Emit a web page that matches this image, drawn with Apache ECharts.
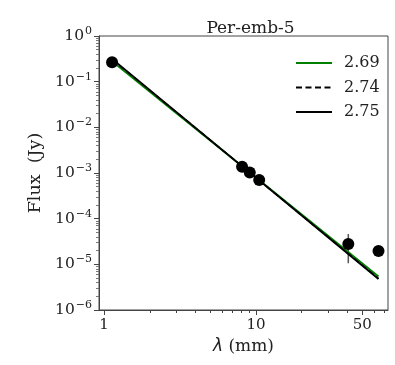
<!DOCTYPE html>
<html><head><meta charset="utf-8">
<script src="https://cdn.jsdelivr.net/npm/echarts@6/dist/echarts.min.js"></script>
<style>html,body{margin:0;padding:0;background:#fff}#c{width:395px;height:365px}</style>
</head><body><div id="c"></div>
<script>
const title = 'Per-emb-5';
const wavelengths = [1.13, 8.1, 9.1, 10.5, 40.5, 64];
const fluxes = [0.265, 1.37e-3, 1.02e-3, 7.0e-4, 2.8e-5, 1.96e-5];
const errX = [40.5, 40.5];
const errY = [1.05e-5, 4.6e-5];
const fitNames = ['2.69', '2.74', '2.75'];
const fitX = [1.13, 64];
const fitGreen = [0.281, 5.41e-6];
const fitDashed = [0.309, 4.88e-6];
const fitBlack = [0.315, 4.77e-6];
const xMajorTicks = [1, 10];
const xLabels = [1, 10, 50];
const xMinorTicks = [2, 3, 4, 5, 6, 7, 8, 9, 20, 30, 40, 50, 60, 70];
const yMajorTicks = [1e-6, 1e-5, 1e-4, 1e-3, 1e-2, 1e-1, 1];
const yMinorTicks = [];
[1e-6, 1e-5, 1e-4, 1e-3, 1e-2, 1e-1].forEach(d => { for (let k = 2; k <= 9; k++) yMinorTicks.push(+(d * k).toPrecision(3)); });

const FONT = 'DejaVu Serif';
const AX = '#444';
const chart = echarts.init(document.getElementById('c'), null, {renderer: 'canvas'});
const pairs = (xs, ys) => xs.map((x, i) => [x, ys[i]]);
const supFmt = v => {
  const e = Math.round(Math.log10(v));
  return '{b|10}{s|' + (e < 0 ? '\u2212' + (-e) : e) + '}';
};
const xBase = {type: 'log', logBase: 10, min: 0.927, max: 73.9, gridIndex: 0, position: 'bottom'};
const yBase = {type: 'log', logBase: 10, min: 1e-6, max: 1, gridIndex: 0, position: 'left'};
chart.setOption({
  animation: false,
  title: {text: title, left: 245.5, textAlign: 'center', top: 15, textStyle: {fontFamily: FONT, fontSize: 17, fontWeight: 'normal', color: '#222'}},
  grid: {left: 99, right: 7, top: 36, bottom: 55, show: true, borderColor: AX, borderWidth: 1, backgroundColor: 'transparent'},
  legend: {
    data: fitNames.map((n, i) => ({name: n})),
    orient: 'vertical', left: 290, top: 49, itemWidth: 36, itemHeight: 14, itemGap: 6.5,
    itemStyle: {opacity: 0},
    textStyle: {fontFamily: FONT, fontSize: 16, color: '#222', lineHeight: 18, padding: [0, 0, 0, 7]},
    selectedMode: false
  },
  xAxis: [
    Object.assign({}, xBase, {
      name: '{i|\u03bb} (mm)', nameLocation: 'middle', nameGap: 27,
      nameTextStyle: {fontFamily: FONT, fontSize: 17, color: '#222',
        rich: {i: {fontFamily: 'DejaVu Sans', fontStyle: 'italic', fontSize: 17, color: '#222'}}},
      axisLine: {show: true, lineStyle: {color: AX, width: 1}},
      axisTick: {show: true, length: 5, lineStyle: {color: AX}, customValues: xMajorTicks.concat([50])},
      axisLabel: {show: true, customValues: xLabels, fontFamily: FONT, fontSize: 15, color: '#222', margin: 8, formatter: v => String(Math.round(v))},
      splitLine: {show: false}, minorTick: {show: false}
    }),
    Object.assign({}, xBase, {
      axisLine: {show: false}, axisLabel: {show: false}, splitLine: {show: false},
      axisTick: {show: true, length: 3, lineStyle: {color: AX}, customValues: xMinorTicks}
    })
  ],
  yAxis: [
    Object.assign({}, yBase, {
      name: 'Flux  (Jy)', nameLocation: 'middle', nameGap: 52, nameRotate: 90,
      nameTextStyle: {fontFamily: FONT, fontSize: 17.5, color: '#222'},
      axisLine: {show: true, lineStyle: {color: AX, width: 1}},
      axisTick: {show: true, length: 5, lineStyle: {color: AX}, customValues: yMajorTicks},
      axisLabel: {show: true, customValues: yMajorTicks, margin: 7, formatter: supFmt,
        rich: {b: {fontFamily: FONT, fontSize: 15.5, color: '#222'}, s: {fontFamily: FONT, fontSize: 11, color: '#222', padding: [0, 0, 10, 1]}}},
      splitLine: {show: false}, minorTick: {show: false}
    }),
    Object.assign({}, yBase, {
      axisLine: {show: false}, axisLabel: {show: false}, splitLine: {show: false},
      axisTick: {show: true, length: 3, lineStyle: {color: '#777'}, customValues: yMinorTicks}
    })
  ],
  series: [
    {name: 'err', type: 'line', data: pairs(errX, errY), symbol: 'none', lineStyle: {color: '#555', width: 1.5}, z: 2, silent: true},
    {name: fitNames[0], type: 'line', data: pairs(fitX, fitGreen), symbol: 'none', lineStyle: {color: '#008000', width: 1.8}, itemStyle: {color: '#008000'}, z: 3},
    {name: fitNames[1], type: 'line', data: pairs(fitX, fitDashed), symbol: 'none', lineStyle: {color: '#000', width: 1.6, type: [6, 3.5]}, itemStyle: {color: '#000'}, z: 4},
    {name: fitNames[2], type: 'line', data: pairs(fitX, fitBlack), symbol: 'none', lineStyle: {color: '#000', width: 1.8}, itemStyle: {color: '#000'}, z: 5},
    {name: 'data', type: 'scatter', data: pairs(wavelengths, fluxes), symbol: 'circle', symbolSize: 12, itemStyle: {color: '#000', opacity: 1}, z: 6}
  ]
});
</script></body></html>
